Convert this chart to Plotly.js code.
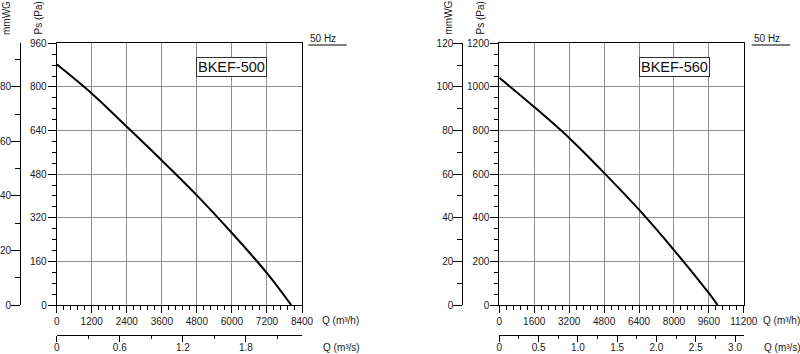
<!DOCTYPE html>
<html><head><meta charset="utf-8">
<script src="https://cdn.plot.ly/plotly-3.0.1.min.js"></script>
<style>html,body{margin:0;padding:0;background:#fff}#chart{width:800px;height:354px}</style>
</head><body><div id="chart"></div>
<script>
// ---- data ----
const qL  = [0, 1200, 2400, 3600, 4800, 6000, 7200, 8030];      // m3/h
const psL = [883, 776, 654, 530, 402, 264, 117, 0];              // Pa
const qR  = [0, 1600, 3200, 4800, 6400, 8000, 9600, 10000];     // m3/h
const psR = [1042, 908, 766, 606, 437, 252, 54, 0];              // Pa

const qhTicksL = [0, 1200, 2400, 3600, 4800, 6000, 7200, 8400];
const qhLabelsL = ['0','1200','2400','3600','4800','6000','7200','8400'];
const qhTicksR = [0, 1600, 3200, 4800, 6400, 8000, 9600, 11200];
const qhLabelsR = ['0','1600','3200','4800','6400','8000','9600','11200'];
const psTicksL = [0, 160, 320, 480, 640, 800, 960];
const psTicksR = [0, 200, 400, 600, 800, 1000, 1200];
const mmTicksL = [0, 20, 40, 60, 80];
const mmTicksR = [0, 20, 40, 60, 80, 100, 120];
const msTicksL = [0, 0.6, 1.2, 1.8];
const msLabelsL = ['0','0.6','1.2','1.8'];
const msTicksR = [0, 0.5, 1.0, 1.5, 2.0, 2.5, 3.0];
const msLabelsR = ['0','0.5','1.0','1.5','2.0','2.5','3.0'];
const modelL = 'BKEF-500';
const modelR = 'BKEF-560';
const freqLabel = '50 Hz';

// ---- layout helpers ----
const W = 800, H = 354;
const px = x => x / W;
const py = y => 1 - y / H;
const FONT = 'Liberation Sans, Arial, Helvetica, sans-serif';
const tf = {family: FONT, size: 10, color: '#1a1a1a'};
const QH_MAX_L = 8400, QH_MAX_R = 11200, PS_MAX_L = 960, PS_MAX_R = 1200;

function mainX(dom, anchor, ticks, labels, max, minorStep) {
  return {domain: dom, anchor: anchor, range: [0, max], tickmode: 'array', tickvals: ticks, ticktext: labels,
    ticks: 'outside', ticklen: 7, tickcolor: '#000', tickwidth: 1, showline: true, linecolor: '#000', linewidth: 1,
    mirror: true, showgrid: true, gridcolor: '#8f8f8f', gridwidth: 1, zeroline: false, tickfont: tf,
    minor: {tickmode: 'linear', tick0: 0, dtick: minorStep, ticks: 'outside', ticklen: 4, tickcolor: '#000', showgrid: false}};
}
function mainY(dom, anchor, ticks, max, minorStep) {
  return {domain: dom, anchor: anchor, range: [0, max], tickmode: 'array', tickvals: ticks,
    ticks: 'outside', ticklen: 8, tickcolor: '#000', tickwidth: 1, showline: true, linecolor: '#000', linewidth: 1,
    mirror: true, showgrid: true, gridcolor: '#8f8f8f', gridwidth: 1, zeroline: false, tickfont: tf,
    ticklabelstandoff: -1,
    minor: {tickmode: 'linear', tick0: 0, dtick: minorStep, ticks: 'outside', ticklen: 4, tickcolor: '#000', showgrid: false}};
}
function msX(over, ticks, labels, max, minorStep) {
  return {overlaying: over, anchor: 'free', position: py(335), side: 'bottom', range: [0, max / 3600],
    tickmode: 'array', tickvals: ticks, ticktext: labels, ticks: 'outside', ticklen: 6, tickcolor: '#000',
    showline: true, linecolor: '#000', linewidth: 1, showgrid: false, zeroline: false, tickfont: tf,
    ticklabelstandoff: -3,
    minor: {tickmode: 'linear', tick0: 0, dtick: minorStep, ticks: 'outside', ticklen: 3, tickcolor: '#000', showgrid: false}};
}
function mmY(over, pos, ticks, max) {
  return {overlaying: over, anchor: 'free', position: pos, side: 'left', range: [0, max / 10],
    tickmode: 'array', tickvals: ticks, ticks: 'outside', ticklen: 9, tickcolor: '#000',
    showline: true, linecolor: '#000', linewidth: 1, showgrid: false, zeroline: false, tickfont: tf,
    ticklabelstandoff: -2,
    minor: {tickmode: 'linear', tick0: 0, dtick: 10, ticks: 'outside', ticklen: 5, tickcolor: '#000', showgrid: false}};
}

const yDom = [py(305), py(43.3)];
const layout = {
  width: W, height: H, margin: {l: 0, r: 0, t: 0, b: 0}, showlegend: false,
  paper_bgcolor: '#fff', plot_bgcolor: '#fff', font: {family: FONT, color: '#1a1a1a'},
  xaxis:  mainX([px(56.7), px(302)], 'y', qhTicksL, qhLabelsL, QH_MAX_L, 240),
  yaxis:  mainY(yDom, 'x', psTicksL, PS_MAX_L, 40),
  xaxis2: mainX([px(499.3), px(743.8)], 'y2', qhTicksR, qhLabelsR, QH_MAX_R, 320),
  yaxis2: mainY(yDom, 'x2', psTicksR, PS_MAX_R, 50),
  xaxis3: msX('x', msTicksL, msLabelsL, QH_MAX_L, 0.3),
  xaxis4: msX('x2', msTicksR, msLabelsR, QH_MAX_R, 0.25),
  yaxis3: mmY('y', px(20), mmTicksL, PS_MAX_L),
  yaxis4: mmY('y2', px(462.3), mmTicksR, PS_MAX_R),
  annotations: [],
  shapes: []
};

function addTexts(xm, xp, xq, xhz, xbox, model) {
  const A = layout.annotations;
  const f = {family: FONT, size: 10, color: '#1a1a1a'};
  A.push({text: 'mmWG', xref: 'paper', yref: 'paper', x: px(xm), y: py(18), textangle: -90, showarrow: false, xanchor: 'center', yanchor: 'middle', font: f});
  A.push({text: 'Ps (Pa)', xref: 'paper', yref: 'paper', x: px(xp), y: py(18), textangle: -90, showarrow: false, xanchor: 'center', yanchor: 'middle', font: f});
  A.push({text: 'Q (m³/h)', xref: 'paper', yref: 'paper', x: px(xq), y: py(320), showarrow: false, xanchor: 'left', yanchor: 'middle', font: f});
  A.push({text: 'Q (m³/s)', xref: 'paper', yref: 'paper', x: px(xq + 1), y: py(347.5), showarrow: false, xanchor: 'left', yanchor: 'middle', font: f});
  A.push({text: freqLabel, xref: 'paper', yref: 'paper', x: px(xhz), y: py(38), showarrow: false, xanchor: 'left', yanchor: 'middle', font: f});
  A.push({text: model, xref: 'paper', yref: 'paper', x: px(xbox), y: py(66.5), showarrow: false, xanchor: 'center', yanchor: 'middle', bgcolor: '#fff', bordercolor: '#333', borderwidth: 1, borderpad: 1, font: {family: FONT, size: 14.5, color: '#111'}});
  layout.shapes.push({type: 'line', xref: 'paper', yref: 'paper', x0: px(xhz), x1: px(xhz + 38.5), y0: py(45), y1: py(45), line: {color: '#000', width: 1}});
}
addTexts(7, 38.5, 320, 308.3, 231.3, modelL);
addTexts(448.5, 480.5, 760.5, 751.7, 674.7, modelR);

const curve = {color: '#000', width: 2, shape: 'spline', smoothing: 1};
const data = [
  {x: qL, y: psL, xaxis: 'x', yaxis: 'y', mode: 'lines', line: curve, hoverinfo: 'skip'},
  {x: qR, y: psR, xaxis: 'x2', yaxis: 'y2', mode: 'lines', line: curve, hoverinfo: 'skip'},
  // same curves in secondary units (invisible) so the companion axes belong to a subplot
  {x: qL.map(q => q / 3600), y: psL, xaxis: 'x3', yaxis: 'y', mode: 'none', hoverinfo: 'skip'},
  {x: qR.map(q => q / 3600), y: psR, xaxis: 'x4', yaxis: 'y2', mode: 'none', hoverinfo: 'skip'},
  {x: qL, y: psL.map(p => p / 10), xaxis: 'x', yaxis: 'y3', mode: 'none', hoverinfo: 'skip'},
  {x: qR, y: psR.map(p => p / 10), xaxis: 'x2', yaxis: 'y4', mode: 'none', hoverinfo: 'skip'}
];

Plotly.newPlot('chart', data, layout, {staticPlot: true, displayModeBar: false});
</script>
</body></html>
